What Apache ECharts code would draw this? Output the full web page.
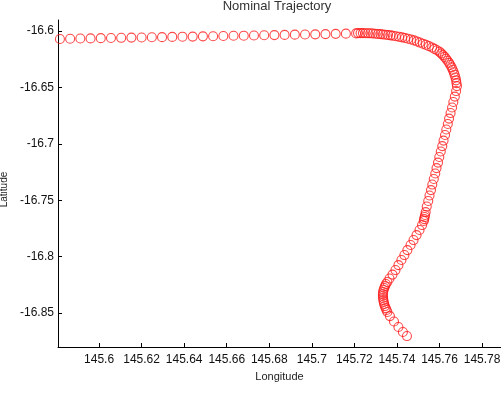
<!DOCTYPE html>
<html>
<head>
<meta charset="utf-8">
<script src="https://cdn.jsdelivr.net/npm/echarts@6/dist/echarts.min.js"></script>
<style>
  html, body { margin: 0; padding: 0; background: #fff; }
  #chart { width: 501px; height: 396px; }
</style>
</head>
<body>
<div id="chart"></div>
<script>
// tick positions
const lonTicks = [145.6, 145.62, 145.64, 145.66, 145.68, 145.7, 145.72, 145.74, 145.76, 145.78];
const latTicks = [-16.85, -16.8, -16.75, -16.7, -16.65, -16.6];

// trajectory points (longitude / latitude)
const lon = [
  145.5816, 145.5864, 145.5912, 145.5960, 145.6008, 145.6056, 145.6104, 145.6152, 145.6200, 145.6248,
  145.6296, 145.6344, 145.6392, 145.6440, 145.6488, 145.6536, 145.6584, 145.6632, 145.6680, 145.6728,
  145.6776, 145.6824, 145.6872, 145.6920, 145.6968, 145.7016, 145.7064, 145.7112, 145.7160, 145.7208,
  145.7217, 145.7229, 145.7240, 145.7252, 145.7264, 145.7276, 145.7287, 145.7299, 145.7311, 145.7323,
  145.7334, 145.7346, 145.7358, 145.7370,
  145.7381, 145.7395, 145.7410, 145.7424, 145.7438, 145.7452, 145.7466, 145.7480, 145.7494, 145.7508,
  145.7522, 145.7536, 145.7550, 145.7565, 145.7576, 145.7588, 145.7600,
  145.7608, 145.7616, 145.7624, 145.7631, 145.7638, 145.7645, 145.7651, 145.7657, 145.7662, 145.7667,
  145.7671, 145.7675, 145.7678, 145.7680, 145.7682,
  145.7678, 145.7672, 145.7665, 145.7659, 145.7652, 145.7645, 145.7639, 145.7632, 145.7626, 145.7619,
  145.7613, 145.7606, 145.7599, 145.7593, 145.7586, 145.7580,
  145.7573, 145.7566, 145.7560, 145.7553, 145.7547, 145.7540, 145.7535,
  145.7532, 145.7530, 145.7528, 145.7526,
  145.7518, 145.7506, 145.7492, 145.7478, 145.7464, 145.7449, 145.7435, 145.7421, 145.7407, 145.7393,
  145.7379, 145.7365,
  145.7355, 145.7348, 145.7344, 145.7340, 145.7337, 145.7335, 145.7334, 145.7334, 145.7335, 145.7336,
  145.7338, 145.7340, 145.7343, 145.7347, 145.7351, 145.7355,
  145.7367, 145.7386, 145.7407, 145.7428, 145.7447
];
const lat = [
  -16.6070, -16.6068, -16.6066, -16.6065, -16.6063, -16.6062, -16.6060, -16.6058, -16.6057, -16.6055,
  -16.6054, -16.6052, -16.6050, -16.6049, -16.6047, -16.6046, -16.6044, -16.6042, -16.6041, -16.6039,
  -16.6037, -16.6036, -16.6034, -16.6032, -16.6031, -16.6029, -16.6027, -16.6025, -16.6023, -16.6021,
  -16.6018, -16.6018, -16.6018, -16.6019, -16.6020, -16.6020, -16.6022, -16.6024, -16.6026, -16.6027,
  -16.6030, -16.6033, -16.6035, -16.6038,
  -16.6042, -16.6046, -16.6051, -16.6056, -16.6062, -16.6068, -16.6075, -16.6083, -16.6092, -16.6102,
  -16.6112, -16.6122, -16.6134, -16.6146, -16.6158, -16.6170, -16.6184,
  -16.6198, -16.6213, -16.6229, -16.6246, -16.6263, -16.6282, -16.6301, -16.6322, -16.6343, -16.6365,
  -16.6388, -16.6412, -16.6437, -16.6462, -16.6488,
  -16.6532, -16.6581, -16.6629, -16.6678, -16.6727, -16.6776, -16.6824, -16.6873, -16.6922, -16.6971,
  -16.7020, -16.7068, -16.7117, -16.7166, -16.7215, -16.7263,
  -16.7312, -16.7361, -16.7410, -16.7458, -16.7507, -16.7556, -16.7605,
  -16.7631, -16.7649, -16.7667, -16.7684,
  -16.7720, -16.7764, -16.7809, -16.7853, -16.7897, -16.7942, -16.7986, -16.8030, -16.8075, -16.8119,
  -16.8159, -16.8194,
  -16.8225, -16.8243, -16.8261, -16.8278, -16.8296, -16.8314, -16.8332, -16.8349, -16.8367, -16.8385,
  -16.8402, -16.8420, -16.8438, -16.8456, -16.8473, -16.8491,
  -16.8527, -16.8575, -16.8624, -16.8668, -16.8704
];

const points = lon.map((v, i) => [v, lat[i]]);

const font = 'Liberation Sans, Arial, sans-serif';
const axisColor = '#000000';

const myChart = echarts.init(document.getElementById('chart'));

const option = {
  backgroundColor: '#ffffff',
  animation: false,
  title: {
    text: 'Nominal Trajectory',
    left: 277,
    top: 0,
    padding: 0,
    textAlign: 'center',
    textStyle: {
      color: '#333333',
      fontFamily: font,
      fontSize: 13,
      fontWeight: 'normal'
    }
  },
  grid: {
    left: 58,
    top: 20,
    right: 0,
    bottom: 49,
    outerBoundsMode: 'none'
  },
  xAxis: {
    type: 'value',
    min: 145.5807,
    max: 145.7889,
    name: 'Longitude',
    nameLocation: 'middle',
    nameGap: 24,
    nameTextStyle: { color: '#222', fontFamily: font, fontSize: 11 },
    axisLine: { show: true, lineStyle: { color: axisColor, width: 1 } },
    axisTick: { show: true, inside: true, length: 4, customValues: lonTicks, lineStyle: { color: axisColor } },
    axisLabel: {
      customValues: lonTicks,
      margin: 7,
      color: '#111',
      fontFamily: font,
      fontSize: 12
    },
    splitLine: { show: false }
  },
  yAxis: {
    type: 'value',
    min: -16.8801,
    max: -16.5902,
    name: 'Latitude',
    nameLocation: 'middle',
    nameGap: 48,
    nameRotate: 90,
    nameTextStyle: { color: '#222', fontFamily: font, fontSize: 10, padding: [0, 12, 0, 0] },
    axisLine: { show: true, lineStyle: { color: axisColor, width: 1 } },
    axisTick: { show: true, inside: true, length: 4, customValues: latTicks, lineStyle: { color: axisColor } },
    axisLabel: {
      customValues: latTicks,
      margin: 4,
      color: '#111',
      fontFamily: font,
      fontSize: 12
    },
    splitLine: { show: false }
  },
  series: [
    {
      name: 'Trajectory',
      type: 'scatter',
      symbol: 'circle',
      symbolSize: 9,
      data: points,
      itemStyle: {
        color: 'rgba(255,255,255,0)',
        borderColor: '#ff1a1a',
        borderWidth: 1.1
      },
      clip: false
    }
  ]
};

myChart.setOption(option);
</script>
</body>
</html>
